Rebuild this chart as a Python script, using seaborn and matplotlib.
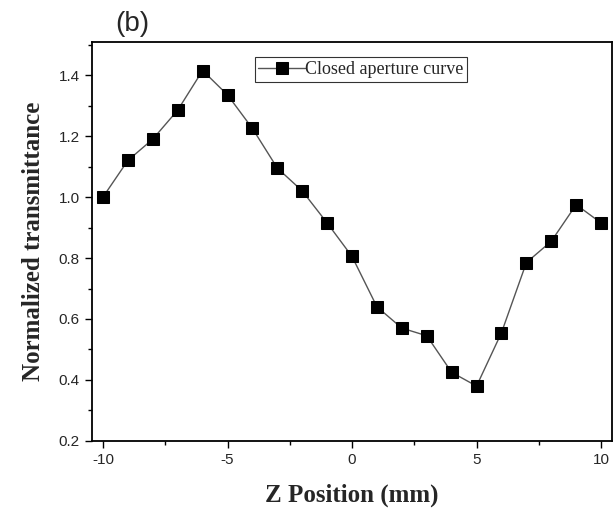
import pandas as pd
import matplotlib.pyplot as plt
import seaborn as sns
from matplotlib.ticker import MultipleLocator

# Z-scan closed aperture data
z_position = [-10, -9, -8, -7, -6, -5, -4, -3, -2, -1, 0, 1, 2, 3, 4, 5, 6, 7, 8, 9, 10]
transmittance = [1.00, 1.12, 1.19, 1.285, 1.415, 1.335, 1.225, 1.095, 1.02, 0.915, 0.805,
                 0.64, 0.57, 0.545, 0.425, 0.38, 0.555, 0.785, 0.855, 0.975, 0.915]

df = pd.DataFrame({"z": z_position, "T": transmittance})

sns.set_style("white")
plt.rcParams["font.family"] = ["Liberation Sans", "DejaVu Sans"]
plt.rcParams["axes.unicode_minus"] = False

fig = plt.figure(figsize=(6.16, 5.08), dpi=100)
ax = fig.add_axes([0.149, 0.132, 0.845, 0.785])

sns.lineplot(data=df, x="z", y="T", ax=ax, color="#555555", linewidth=1.0,
             marker="s", markersize=8, markerfacecolor="black", markeredgecolor="black",
             label="Closed aperture curve")

ax.set_xlim(-10.45, 10.45)
ax.set_ylim(0.2, 1.508)
ax.xaxis.set_major_locator(MultipleLocator(5))
ax.xaxis.set_minor_locator(MultipleLocator(2.5))
ax.yaxis.set_major_locator(MultipleLocator(0.2))
ax.yaxis.set_minor_locator(MultipleLocator(0.1))
ax.tick_params(which="both", direction="out", bottom=True, left=True, top=False, right=False,
               labelsize=11, width=1, color="black")
ax.tick_params(which="major", length=5)
ax.tick_params(which="minor", length=3)
for s in ax.spines.values():
    s.set_color("black")
    s.set_linewidth(1.3)

ax.set_xlabel("Z Position (mm)", fontfamily="Liberation Serif", fontweight="bold",
              fontsize=18, labelpad=12)
ax.set_ylabel("Normalized transmittance", fontfamily="Liberation Serif", fontweight="bold",
              fontsize=18, labelpad=10)

fig.text(0.187, 0.953, "(b)", fontsize=20, ha="left", va="center")

leg = ax.legend(loc="upper left", bbox_to_anchor=(0.313, 0.962), frameon=True, fancybox=False,
                prop={"family": "Liberation Serif", "size": 13}, borderpad=0.2,
                handlelength=2.6, handletextpad=0.0, borderaxespad=0)
leg.get_frame().set_edgecolor("black")
leg.get_frame().set_linewidth(0.8)

fig.savefig("out.png", dpi=100)
